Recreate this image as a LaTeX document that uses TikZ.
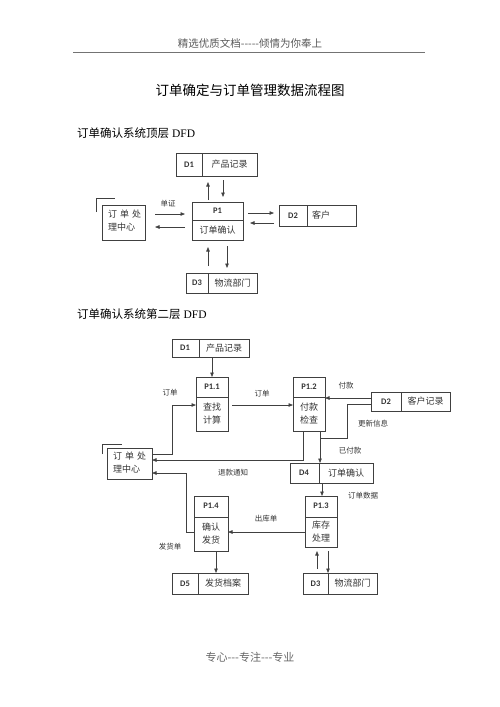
\documentclass[tikz,border=0pt]{standalone}
\usepackage{fontspec}
\setmainfont{Liberation Serif}
\newfontfamily\cjk{Noto Sans CJK SC}
\newfontfamily\lab{Carlito}
\usetikzlibrary{arrows.meta}
\definecolor{ln}{HTML}{404040}
\definecolor{tx}{HTML}{333333}
\tikzset{
  dfbox/.style={draw=ln, line width=0.7pt, inner sep=0pt, outer sep=0pt, anchor=north west},
  dvline/.style={draw=ln, line width=0.7pt},
  dfflow/.style={draw=ln, line width=0.7pt, -{Triangle[length=4.5pt,width=3.5pt]}},
  dfplain/.style={draw=ln, line width=0.7pt},
  idlab/.style={font=\lab\bfseries\fontsize{8.5}{9}\selectfont, text=tx, inner sep=0pt},
  boxtx/.style={font=\cjk\fontsize{9}{13}\selectfont, text=tx, inner sep=0pt, align=center},
  flowlab/.style={font=\cjk\fontsize{7.5}{9}\selectfont, text=tx, inner sep=0pt},
}
\begin{document}
\begin{tikzpicture}[x=1pt,y=-1pt]
\useasboundingbox (0,0) rectangle (500,707);
% header
\node[font=\cjk\fontsize{10.5}{12}\selectfont, text=black!65, inner sep=0pt] (hdr) at (250,43) {精选优质文档-----倾情为你奉上};
\coordinate (hl) at (73,52); \coordinate (hr) at (425,52);
\draw[black!55, line width=0.6pt] (hl) -- (hr);
\node[font=\cjk\fontsize{13.5}{15}\selectfont, inner sep=0pt] (title) at (250,90) {订单确定与订单管理数据流程图};
\node[font=\fontsize{11.5}{13}\selectfont, inner sep=0pt, anchor=west] (sec1) at (77,133) {{\cjk 订单确认系统顶层} DFD};
\node[font=\fontsize{11.5}{13}\selectfont, inner sep=0pt, anchor=west] (sec2) at (77,314) {{\cjk 订单确认系统第二层} DFD};
\node[font=\cjk\fontsize{11}{12}\selectfont, text=black!60, inner sep=0pt] (ftr) at (250,657) {专心---专注---专业};

% ================= top level =================
\node[dfbox, minimum width=81pt, minimum height=23pt] (d1t) at (176,153) {};
\draw[dvline] (202,153) -- (202,176);
\node[idlab] (d1tid) at (189,164.5) {D1};
\node[boxtx] (d1ttx) at (229.5,164.5) {产品记录};

\node[dfbox, minimum width=51pt, minimum height=38pt] (p1) at (192,202) {};
\draw[dvline] (192,220) -- (243,220);
\node[idlab] (p1id) at (217.5,211) {P1};
\node[boxtx] (p1tx) at (217.5,230) {订单确认};

\node[dfbox, minimum width=43pt, minimum height=35pt] (oc1) at (102,205) {};
\node[boxtx, align=left, anchor=north west] (oc1tx) at (108,210) {订\,\,单\,\,处\\理中心};
\draw[dfplain] (96,212) -- (96,198) -- (115,198);

\node[dfbox, minimum width=77pt, minimum height=21pt] (d2t) at (279,205) {};
\draw[dvline] (307,205) -- (307,226);
\node[idlab] (d2tid) at (293,215.5) {D2};
\node[boxtx] (d2ttx) at (321,215.5) {客户};

\node[dfbox, minimum width=71pt, minimum height=20pt] (d3t) at (186,273) {};
\draw[dvline] (208,273) -- (208,293);
\node[idlab] (d3tid) at (197,283) {D3};
\node[boxtx] (d3ttx) at (232.5,283) {物流部门};

\coordinate (xa) at (208,0);
\coordinate (xb) at (223,0);
\coordinate (xc) at (227,0);
\coordinate (ya) at (0,214);
\coordinate (yb) at (0,227);
\coordinate (yc) at (0,213);
\coordinate (yd) at (0,223);
\draw[dfflow, shorten <=2pt, shorten >=6pt] (p1.north -| xa) -- (d1t.south -| xa);
\draw[dfflow, shorten <=4pt, shorten >=5pt] (d1t.south -| xb) -- (p1.north -| xb);
\draw[dfflow, shorten <=10pt, shorten >=7pt] (oc1.east |- ya) -- (p1.west |- ya);
\draw[dfflow, shorten <=7pt, shorten >=10pt] (p1.west |- yb) -- (oc1.east |- yb);
\draw[dfflow, shorten <=5pt, shorten >=5pt] (p1.east |- yc) -- (d2t.west |- yc);
\draw[dfflow, shorten <=5pt, shorten >=7pt] (d2t.west |- yd) -- (p1.east |- yd);
\draw[dfflow, shorten <=7pt, shorten >=7pt] (d3t.north -| xa) -- (p1.south -| xa);
\draw[dfflow, shorten <=6pt, shorten >=5pt] (p1.south -| xc) -- (d3t.north -| xc);
\node[flowlab] (l1) at (168,204) {单证};

% ================= second level =================
\node[dfbox, minimum width=77pt, minimum height=18pt] (d1b) at (172,339) {};
\draw[dvline] (199,339) -- (199,357);
\node[idlab] (d1bid) at (185,348) {D1};
\node[boxtx] (d1btx) at (224,348) {产品记录};

\node[dfbox, minimum width=32pt, minimum height=54pt] (p11) at (196,377) {};
\draw[dvline] (196,397) -- (228,397);
\node[idlab] (p11id) at (212,387) {P1.1};
\node[boxtx] (p11tx) at (212,414) {查找\\计算};

\node[dfbox, minimum width=32pt, minimum height=54pt] (p12) at (293,377) {};
\draw[dvline] (293,397) -- (325,397);
\node[idlab] (p12id) at (309,387) {P1.2};
\node[boxtx] (p12tx) at (309,414) {付款\\检查};

\node[dfbox, minimum width=79pt, minimum height=19pt] (d2b) at (371,392) {};
\draw[dvline] (401,392) -- (401,411);
\node[idlab] (d2bid) at (386,401.5) {D2};
\node[boxtx] (d2btx) at (425.5,401.5) {客户记录};

\node[dfbox, minimum width=45pt, minimum height=31pt] (oc2) at (107,448) {};
\node[boxtx, align=left, anchor=north west] (oc2tx) at (113,452) {订\,\,单\,\,处\\理中心};
\draw[dfplain] (102,454) -- (102,444) -- (122,444);

\node[dfbox, minimum width=83pt, minimum height=20pt] (d4) at (290,463) {};
\draw[dvline] (319,463) -- (319,483);
\node[idlab] (d4id) at (304,473) {D4};
\node[boxtx] (d4tx) at (346,473) {订单确认};

\node[dfbox, minimum width=32pt, minimum height=51pt] (p13) at (305,496) {};
\draw[dvline] (305,517) -- (337,517);
\node[idlab] (p13id) at (321,506) {P1.3};
\node[boxtx] (p13tx) at (321,532) {库存\\处理};

\node[dfbox, minimum width=34pt, minimum height=55pt] (p14) at (194,496) {};
\draw[dvline] (194,517) -- (228,517);
\node[idlab] (p14id) at (211,506) {P1.4};
\node[boxtx] (p14tx) at (211,534) {确认\\发货};

\node[dfbox, minimum width=76pt, minimum height=21pt] (d5) at (172,573) {};
\draw[dvline] (198,573) -- (198,594);
\node[idlab] (d5id) at (185,583.5) {D5};
\node[boxtx] (d5tx) at (223,583.5) {发货档案};

\node[dfbox, minimum width=74pt, minimum height=21pt] (d3b) at (303,573) {};
\draw[dvline] (328,573) -- (328,594);
\node[idlab] (d3bid) at (315.5,583.5) {D3};
\node[boxtx] (d3btx) at (352.5,583.5) {物流部门};

% connectors
\coordinate (xd) at (212,0);
\draw[dfflow] (d1b.south -| xd) -- (p11.north -| xd);

\coordinate (a1) at (172,454);
\coordinate (a2) at (172,405);
\draw[dfflow] (oc2.east |- a1) -- (a1) -- (a2) -- (p11.west |- a2);
\node[flowlab] (l2) at (170,393) {订单};

\draw[dfflow, shorten <=4pt] (p11.east |- a2) -- (p12.west |- a2);
\node[flowlab] (l3) at (262,394) {订单};

\coordinate (b1) at (303,460);
\draw[dfflow] (p12.south -| b1) -- (b1) -- (oc2.east |- b1);
\node[flowlab] (l4) at (233,473) {退款通知};

\coordinate (c1) at (320,438);
\draw[dfflow] (p12.south -| c1) -- (d4.north -| c1);
\node[flowlab] (l5) at (350,451) {已付款};

\coordinate (c2) at (347,438);
\coordinate (c3) at (347,404);
\draw[dfplain] (c1) -- (c2) -- (c3) -- (d2b.west |- c3);
\node[flowlab] (l6) at (373,424) {更新信息};

\coordinate (c4) at (0,398);
\draw[dfflow] (d2b.west |- c4) -- (p12.east |- c4);
\node[flowlab] (l7) at (346,386) {付款};

\coordinate (xe) at (322,0);
\draw[dfflow] (d4.south -| xe) -- (p13.north -| xe);
\node[flowlab] (l8) at (363,496) {订单数据};

\coordinate (e1) at (0,532);
\draw[dfflow] (p13.west |- e1) -- (p14.east |- e1);
\node[flowlab] (l9) at (266,519) {出库单};

\coordinate (f1) at (186,532);
\coordinate (f2) at (186,473);
\draw[dfflow] (p14.west |- f1) -- (f1) -- (f2) -- (oc2.east |- f2);
\node[flowlab] (l10) at (170,547) {发货单};

\coordinate (xf) at (216,0);
\draw[dfflow] (p14.south -| xf) -- (d5.north -| xf);

\coordinate (xg) at (317,0);
\coordinate (xh) at (328,0);
\draw[dfflow, shorten <=4pt, shorten >=4pt] (d3b.north -| xg) -- (p13.south -| xg);
\draw[dfflow, shorten <=4pt] (p13.south -| xh) -- (d3b.north -| xh);
\end{tikzpicture}
\end{document}
